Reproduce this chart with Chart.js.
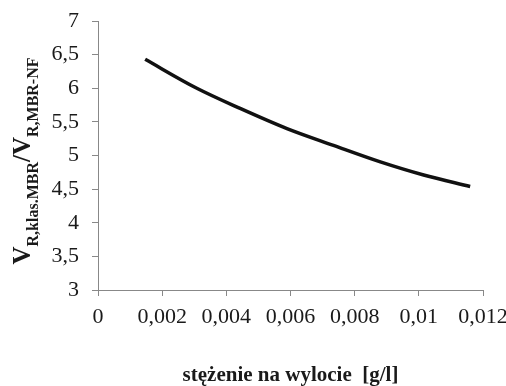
<!DOCTYPE html>
<html>
<head>
<meta charset="utf-8">
<script src="https://cdn.jsdelivr.net/npm/chart.js@4.4.1/dist/chart.umd.min.js"></script>
<style>
  html, body { margin: 0; padding: 0; background: #fff; }
  #wrap { width: 506px; height: 386px; }
</style>
</head>
<body>
<div id="wrap"><canvas id="myChart" width="506" height="386"></canvas></div>
<script>
var stezenie = [0.00147, 0.00308, 0.00443, 0.00589, 0.00734, 0.0088, 0.01015, 0.0116];
var stosunek = [6.43, 6.0, 5.7, 5.4, 5.15, 4.905, 4.71, 4.54];
var xTitle = "stężenie na wylocie  [g/l]";
// y title pieces: [text, isSubscript]
var yTitleParts = [["V", false], ["R,klas.MBR", true], ["/", false], ["V", false], ["R,MBR-NF", true]];

var pts = stezenie.map(function (x, i) { return { x: x, y: stosunek[i] }; });

function comma(v) {
  return Number(v.toFixed(4)).toString().replace(".", ",");
}

var yTitlePlugin = {
  id: "yTitle",
  afterDraw: function (chart) {
    var ctx = chart.ctx;
    var bigFont = "bold 25px 'Liberation Serif'";
    var smallFont = "bold 16px 'Liberation Serif'";
    var total = 0;
    yTitleParts.forEach(function (p) {
      ctx.font = p[1] ? smallFont : bigFont;
      total += ctx.measureText(p[0]).width;
    });
    ctx.save();
    ctx.translate(30, 161);
    ctx.rotate(-Math.PI / 2);
    ctx.fillStyle = "#1a1a1a";
    ctx.textBaseline = "alphabetic";
    var x = -total / 2;
    yTitleParts.forEach(function (p) {
      ctx.font = p[1] ? smallFont : bigFont;
      ctx.fillText(p[0], x, p[1] ? 8 : 0);
      x += ctx.measureText(p[0]).width;
    });
    ctx.restore();
  }
};

var ctx = document.getElementById("myChart").getContext("2d");

var myChart = new Chart(ctx, {
  type: "line",
  data: {
    datasets: [
      {
        data: pts,
        borderColor: "#111",
        borderWidth: 3.5,
        pointRadius: 0,
        cubicInterpolationMode: "monotone",
        fill: false,
      },
    ],
  },
  options: {
    responsive: false,
    animation: false,
    layout: { padding: { top: 21, right: 23, bottom: 0, left: 0 } },
    plugins: { legend: { display: false }, tooltip: { enabled: false } },
    scales: {
      x: {
        type: "linear",
        min: 0,
        max: 0.012,
        border: { color: "#888", width: 1 },
        grid: { drawOnChartArea: false, tickLength: 6, color: "#888" },
        ticks: {
          stepSize: 0.002,
          maxRotation: 0,
          padding: 8,
          color: "#1a1a1a",
          font: { family: "'Liberation Serif'", size: 22 },
          callback: function (v) { return comma(v); },
        },
        title: {
          display: true,
          text: xTitle,
          color: "#1a1a1a",
          font: { family: "'Liberation Serif'", size: 21, weight: "bold" },
          padding: { top: 4, bottom: -2 },
        },
        afterFit: function (scale) {
          scale.height = 96;
          scale.paddingRight = 0;
          scale.paddingLeft = 0;
        },
      },
      y: {
        min: 3,
        max: 7,
        border: { color: "#888", width: 1 },
        grid: { drawOnChartArea: false, tickLength: 6, color: "#888" },
        ticks: {
          stepSize: 0.5,
          padding: 13,
          color: "#1a1a1a",
          font: { family: "'Liberation Serif'", size: 22 },
          callback: function (v) { return comma(v); },
        },
        afterFit: function (scale) {
          scale.width = 98;
          scale.paddingTop = 0;
          scale.paddingBottom = 0;
        },
      },
    },
  },
  plugins: [yTitlePlugin],
});
</script>
</body>
</html>
